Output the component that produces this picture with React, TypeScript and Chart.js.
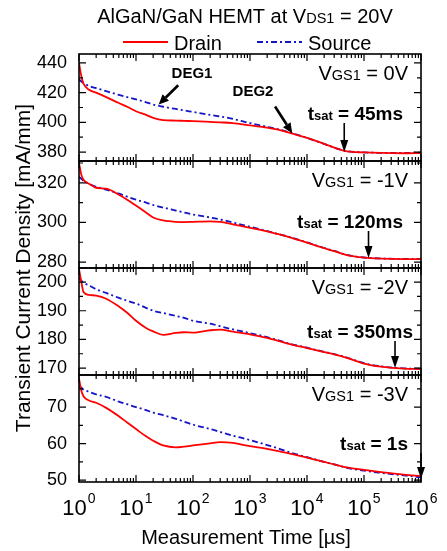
import React, { useEffect, useRef } from "react";
import { Chart, registerables } from "chart.js";

Chart.register(...registerables);

// ---------------- data ----------------
const TIMES = [1, 1.1, 1.2, 1.5, 2, 3, 5, 7, 10, 15, 20, 30, 50, 70, 100, 200, 300, 500, 1e3, 2e3, 3e3, 5e3, 1e4, 2e4, 3e4, 5e4, 1e5, 2e5, 5e5, 1e6];

const DRAIN_0V = [440, 431, 426, 422, 420, 417, 413, 410.5, 407.5, 405, 403, 401.5, 401.2, 401, 400.8, 400.3, 400, 399.5, 398, 396.5, 395.2, 393, 389.5, 385.5, 383, 380.5, 379.8, 379.4, 379.2, 379.4];
const SOURCE_0V = [429, 427.5, 426.5, 424.5, 423, 421, 418.5, 417, 415.5, 413.5, 412, 410.5, 409, 408, 407, 405, 404, 402.3, 399.5, 397, 395.5, 393.2, 389.5, 385.5, 383, 380.6, 379.8, 379.5, 379.5, 379.6];

const DRAIN_M1V = [330, 324, 321.5, 319.5, 317.5, 317, 314, 311.5, 308.5, 305, 302.5, 301, 300.3, 300.2, 300.3, 300.5, 300.3, 299, 297.3, 295.5, 294.2, 292.5, 289.8, 287, 285.5, 283.5, 282.2, 281.7, 281.5, 281.5];
const SOURCE_M1V = [323, 322, 321, 319.5, 318, 316.5, 314.5, 313, 311.5, 310, 308.8, 307.5, 306, 305, 304, 302.5, 301.5, 300, 297.8, 295.6, 294.3, 292.6, 289.9, 287.1, 285.6, 283.6, 282.3, 281.8, 281.6, 281.6];

const DRAIN_M2V = [204.5, 200, 196.5, 195.5, 195.3, 194.2, 191.5, 189.3, 186.5, 184, 182.8, 181.6, 182.3, 182.5, 182.4, 183.2, 183.4, 182.7, 181.8, 180.5, 179.6, 178.4, 177, 175.6, 174.8, 173.6, 171.6, 170.5, 169.8, 169.7];
const SOURCE_M2V = [201.5, 200.5, 199.8, 198.8, 197.5, 196.2, 194.5, 193.5, 192.5, 191, 190, 189.2, 188.2, 187.5, 186.5, 185.5, 184.6, 183.5, 182.2, 180.8, 179.8, 178.5, 177.1, 175.7, 174.9, 173.7, 171.7, 170.6, 169.9, 169.8];

const DRAIN_M3V = [77.8, 74.5, 73, 71.8, 71.2, 69.8, 67.5, 65.8, 64, 62, 60.8, 59.5, 59, 59.2, 59.5, 60.1, 60.4, 60.2, 59.3, 58.6, 58, 57.3, 56.2, 55, 54.3, 53.5, 52.8, 52.2, 51.5, 51.1];
const SOURCE_M3V = [75.8, 75.3, 74.8, 74.2, 73.5, 72.8, 71.5, 70.8, 70, 69.2, 68.5, 67.8, 66.8, 66, 65.2, 64, 63.2, 62.2, 61, 59.6, 58.8, 57.6, 56.3, 55, 54.3, 53.4, 52.6, 52, 51.3, 50.8];

const DRAIN = [DRAIN_0V, DRAIN_M1V, DRAIN_M2V, DRAIN_M3V];
const SOURCE = [SOURCE_0V, SOURCE_M1V, SOURCE_M2V, SOURCE_M3V];

const VGS_LABELS = ["0V", "-1V", "-2V", "-3V"];
const TSAT_LABELS = ["45ms", "120ms", "350ms", "1s"];
const TSAT_US = [45000, 120000, 350000, 1000000];
const TSAT_LEVEL = [380, 282, 170, 50.3];

const Y_MIN = [374, 277, 167.6, 49.5];
const Y_MAX = [446, 331, 204.9, 78.8];
const Y_TICKS = [
  [380, 400, 420, 440],
  [280, 300, 320],
  [170, 180, 190, 200],
  [50, 60, 70],
];
const X_EXPONENTS = [0, 1, 2, 3, 4, 5, 6];

// annotation anchors in panel-1 data coordinates (time us, value)
const DEG_LABELS = ["DEG1", "DEG2"];
const DEG_TEXT_AT = [[96, 432.7], [1130, 420.7]];
const DEG_ARROW_FROM = [[55, 425], [2750, 410.7]];
const DEG_ARROW_TO = [[25, 412], [5500, 392.7]];

// ---------------- styling ----------------
const FONT = "'Liberation Sans', Arial, Helvetica, sans-serif";
const RED = "#ff0000";
const BLUE = "#1414c8";
const TSAT_RIGHT_GAP = [18, 18, 8, 13];
const TSAT_BASELINE = [66, 67, 70, 75];

type Run = { text: string; font: string };

function drawRuns(ctx: CanvasRenderingContext2D, runs: Run[], x: number, y: number, align: string) {
  let total = 0;
  for (const r of runs) {
    ctx.font = r.font;
    total += ctx.measureText(r.text).width;
  }
  let cx = align === "center" ? x - total / 2 : align === "right" ? x - total : x;
  ctx.textAlign = "left";
  ctx.textBaseline = "alphabetic";
  for (const r of runs) {
    ctx.font = r.font;
    ctx.fillText(r.text, cx, y);
    cx += ctx.measureText(r.text).width;
  }
}

function arrow(ctx: CanvasRenderingContext2D, x1: number, y1: number, x2: number, y2: number, lw: number, headLen: number, headW: number) {
  const ang = Math.atan2(y2 - y1, x2 - x1);
  const bx = x2 - headLen * Math.cos(ang);
  const by = y2 - headLen * Math.sin(ang);
  ctx.lineWidth = lw;
  ctx.beginPath();
  ctx.moveTo(x1, y1);
  ctx.lineTo(bx, by);
  ctx.stroke();
  ctx.beginPath();
  ctx.moveTo(x2, y2);
  ctx.lineTo(bx + (headW / 2) * Math.sin(ang), by - (headW / 2) * Math.cos(ang));
  ctx.lineTo(bx - (headW / 2) * Math.sin(ang), by + (headW / 2) * Math.cos(ang));
  ctx.closePath();
  ctx.fill();
}

const decorPlugin = {
  id: "decor",
  afterDatasetsDraw(chart: any) {
    const ctx: CanvasRenderingContext2D = chart.ctx;
    const ca = chart.chartArea;
    const xs = chart.scales.x;
    ctx.save();
    ctx.strokeStyle = "#000";
    ctx.fillStyle = "#000";
    for (let i = 0; i < 4; i++) {
      const ys = chart.scales["y" + i];
      const top = ys.top;
      const bot = ys.bottom;
      // x ticks (inward, top & bottom of each panel)
      ctx.lineWidth = 1.2;
      ctx.beginPath();
      for (let e = 0; e <= 6; e++) {
        for (let m = 1; m <= 9; m++) {
          const v = m * Math.pow(10, e);
          if (v > 1e6) break;
          const px = xs.getPixelForValue(v);
          const len = m === 1 ? 7 : 4;
          ctx.moveTo(px, top);
          ctx.lineTo(px, top + len);
          ctx.moveTo(px, bot);
          ctx.lineTo(px, bot - len);
        }
      }
      ctx.stroke();
      // y ticks (inward, left & right)
      const majors = Y_TICKS[i];
      const step = majors[1] - majors[0];
      const minors: number[] = [];
      for (let k = -1; k < majors.length; k++) {
        const mv = (k < 0 ? majors[0] - step : majors[k]) + step / 2;
        if (mv > Y_MIN[i] + 0.5 && mv < Y_MAX[i] - 0.5) minors.push(mv);
      }
      ctx.beginPath();
      for (const v of majors) {
        const py = ys.getPixelForValue(v);
        ctx.moveTo(ca.left, py);
        ctx.lineTo(ca.left + 7, py);
        ctx.moveTo(ca.right, py);
        ctx.lineTo(ca.right - 7, py);
      }
      for (const v of minors) {
        const py = ys.getPixelForValue(v);
        ctx.moveTo(ca.left, py);
        ctx.lineTo(ca.left + 4, py);
        ctx.moveTo(ca.right, py);
        ctx.lineTo(ca.right - 4, py);
      }
      ctx.stroke();
      // frame
      ctx.lineWidth = 1.6;
      ctx.strokeRect(ca.left, top, ca.right - ca.left, bot - top);

      // V_GS1 label
      const big = `20px ${FONT}`;
      const small = `14.5px ${FONT}`;
      drawRuns(ctx, [
        { text: "V", font: big },
        { text: "GS1", font: small },
        { text: " = " + VGS_LABELS[i], font: big },
      ], ca.right - 13, top + 26, "right");

      // t_sat label
      const bBig = `bold 19px ${FONT}`;
      const bSmall = `bold 13px ${FONT}`;
      drawRuns(ctx, [
        { text: "t", font: bBig },
        { text: "sat", font: bSmall },
        { text: " = " + TSAT_LABELS[i], font: bBig },
      ], ca.right - TSAT_RIGHT_GAP[i], top + TSAT_BASELINE[i], "right");

      // t_sat arrow
      const ax = xs.getPixelForValue(TSAT_US[i]);
      const tipY = ys.getPixelForValue(TSAT_LEVEL[i]);
      const startY = top + TSAT_BASELINE[i] + 3;
      arrow(ctx, ax, startY, ax, tipY, 1.6, 12, 8);
    }

    // DEG annotations (panel 1)
    const y0 = chart.scales.y0;
    ctx.font = `bold 15px ${FONT}`;
    ctx.textAlign = "center";
    ctx.textBaseline = "middle";
    for (let k = 0; k < DEG_LABELS.length; k++) {
      ctx.fillText(DEG_LABELS[k], xs.getPixelForValue(DEG_TEXT_AT[k][0]), y0.getPixelForValue(DEG_TEXT_AT[k][1]));
      arrow(
        ctx,
        xs.getPixelForValue(DEG_ARROW_FROM[k][0]), y0.getPixelForValue(DEG_ARROW_FROM[k][1]),
        xs.getPixelForValue(DEG_ARROW_TO[k][0]), y0.getPixelForValue(DEG_ARROW_TO[k][1]),
        2.6, 10, 9
      );
    }

    // x tick labels 10^n
    for (const e of X_EXPONENTS) {
      const px = xs.getPixelForValue(Math.pow(10, e));
      ctx.font = `22px ${FONT}`;
      const w1 = ctx.measureText("10").width;
      ctx.font = `14px ${FONT}`;
      const w2 = ctx.measureText(String(e)).width;
      const left = px - (w1 + w2 + 1) / 2;
      ctx.textAlign = "left";
      ctx.textBaseline = "alphabetic";
      ctx.font = `22px ${FONT}`;
      ctx.fillText("10", left, 515);
      ctx.font = `14px ${FONT}`;
      ctx.fillText(String(e), left + w1 + 1, 503);
    }

    // axis titles
    ctx.font = `20px ${FONT}`;
    ctx.textAlign = "center";
    ctx.textBaseline = "alphabetic";
    ctx.fillText("Measurement Time [\u00b5s]", (ca.left + ca.right) / 2 - 4, 544);

    ctx.save();
    ctx.translate(24, (ca.top + ca.bottom) / 2);
    ctx.rotate(-Math.PI / 2);
    ctx.font = `21px ${FONT}`;
    ctx.textAlign = "center";
    ctx.textBaseline = "middle";
    ctx.fillText("Transient Current Density [mA/mm]", 0, 0);
    ctx.restore();

    // title
    drawRuns(ctx, [
      { text: "AlGaN/GaN HEMT at V", font: `20px ${FONT}` },
      { text: "DS1", font: `14.5px ${FONT}` },
      { text: " = 20V", font: `20px ${FONT}` },
    ], 245, 23, "center");

    // legend
    ctx.lineWidth = 2;
    ctx.strokeStyle = RED;
    ctx.setLineDash([]);
    ctx.beginPath();
    ctx.moveTo(123, 42);
    ctx.lineTo(168, 42);
    ctx.stroke();
    ctx.strokeStyle = BLUE;
    ctx.setLineDash([6, 3, 2, 3]);
    ctx.beginPath();
    ctx.moveTo(257, 42);
    ctx.lineTo(302, 42);
    ctx.stroke();
    ctx.setLineDash([]);
    ctx.fillStyle = "#000";
    ctx.font = `20px ${FONT}`;
    ctx.textAlign = "left";
    ctx.textBaseline = "alphabetic";
    ctx.fillText("Drain", 174, 50);
    ctx.fillText("Source", 308, 50);

    ctx.restore();
  },
};

export default function App() {
  const ref = useRef<HTMLCanvasElement | null>(null);
  useEffect(() => {
    if (!ref.current) return;
    const datasets: any[] = [];
    for (let i = 0; i < 4; i++) {
      datasets.push({
        label: "Drain",
        data: TIMES.map((t, k) => ({ x: t, y: DRAIN[i][k] })),
        yAxisID: "y" + i,
        borderColor: RED,
        borderWidth: 1.8,
        pointRadius: 0,
        cubicInterpolationMode: "monotone",
        order: 0,
      });
      datasets.push({
        label: "Source",
        data: TIMES.map((t, k) => ({ x: t, y: SOURCE[i][k] })),
        yAxisID: "y" + i,
        borderColor: BLUE,
        borderWidth: 1.8,
        borderDash: [6, 3, 2, 3],
        pointRadius: 0,
        cubicInterpolationMode: "monotone",
        order: 1,
      });
    }
    const scales: any = {
      x: {
        type: "logarithmic",
        min: 1,
        max: 1e6,
        display: false,
      },
    };
    // stacked layout places later-defined scales on top, so define bottom panel first
    for (let i = 3; i >= 0; i--) {
      scales["y" + i] = {
        type: "linear",
        position: "left",
        stack: "panels",
        stackWeight: 1,
        min: Y_MIN[i],
        max: Y_MAX[i],
        grid: { display: false, drawTicks: false },
        border: { display: false },
        afterBuildTicks: (s: any) => {
          s.ticks = Y_TICKS[i].map((v) => ({ value: v }));
        },
        afterFit: (s: any) => {
          s.width = 50;
        },
        ticks: {
          color: "#000",
          padding: 12,
          autoSkip: false,
          font: { family: FONT, size: 18 },
          callback: (v: any) => String(v),
        },
      };
    }
    const chart = new Chart(ref.current, {
      type: "line",
      data: { datasets },
      options: {
        animation: false,
        responsive: false,
        parsing: false as any,
        layout: { padding: { left: 29, right: 26, top: 54, bottom: 69 } },
        plugins: { legend: { display: false }, title: { display: false }, tooltip: { enabled: false } },
        scales,
      },
      plugins: [decorPlugin],
    });
    return () => chart.destroy();
  }, []);
  return (
    <div style={{ position: "fixed", left: 0, top: 0, width: 447, height: 551, background: "#fff" }}>
      <canvas ref={ref} width={447} height={551} style={{ display: "block" }} />
    </div>
  );
}
